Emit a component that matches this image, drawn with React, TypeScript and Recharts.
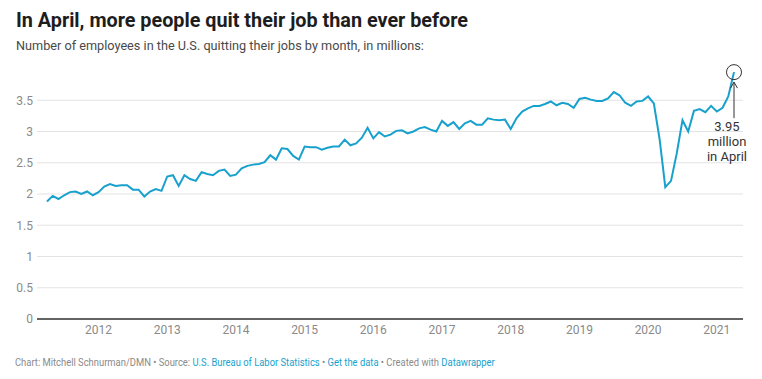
import { LineChart, Line, XAxis, YAxis, CartesianGrid, ReferenceDot } from 'recharts';

// monthly quits, millions, starting April 2011
const startYear = 2011;
const startMonth = 4;
const quits = [
  1.88, 1.97, 1.92, 1.98, 2.03, 2.04, 2.0, 2.04, 1.98,
  2.03, 2.12, 2.16, 2.13, 2.14, 2.14, 2.07, 2.07, 1.96, 2.04, 2.08, 2.05,
  2.28, 2.3, 2.13, 2.3, 2.24, 2.21, 2.35, 2.32, 2.3, 2.37, 2.39, 2.29,
  2.31, 2.41, 2.45, 2.47, 2.48, 2.51, 2.62, 2.55, 2.73, 2.72, 2.61, 2.55,
  2.76, 2.75, 2.75, 2.71, 2.74, 2.76, 2.76, 2.87, 2.78, 2.81, 2.9, 3.06,
  2.89, 2.99, 2.92, 2.95, 3.01, 3.02, 2.97, 3.0, 3.05, 3.07, 3.03, 3.0,
  3.17, 3.09, 3.15, 3.04, 3.13, 3.17, 3.11, 3.11, 3.21, 3.19, 3.18, 3.19,
  3.04, 3.21, 3.32, 3.37, 3.41, 3.41, 3.44, 3.48, 3.42, 3.46, 3.44, 3.38,
  3.52, 3.54, 3.51, 3.49, 3.49, 3.53, 3.63, 3.58, 3.46, 3.41, 3.48, 3.49,
  3.56, 3.45, 2.88, 2.11, 2.21, 2.65, 3.18, 3.0, 3.33, 3.36, 3.31, 3.41,
  3.32, 3.38, 3.56, 3.95,
];
const yearTicks = [2012, 2013, 2014, 2015, 2016, 2017, 2018, 2019, 2020, 2021];
const valueTicks = [0, 0.5, 1, 1.5, 2, 2.5, 3, 3.5];
const yMax = 4;
const noteLines = ['3.95', 'million', 'in April'];

const data = quits.map((v, i) => ({ t: startYear + (startMonth - 1 + i) / 12, v }));
const last = data[data.length - 1];

const BLUE = '#18a1cd';
const FONT = 'Roboto, sans-serif';

function Note(props: any) {
  const { cx, cy } = props;
  if (cx == null || cy == null) return null;
  return (
    <g>
      <circle cx={cx} cy={cy} r={7.5} fill="none" stroke="#333" strokeWidth={1} />
      <line x1={cx} y1={cy + 10} x2={cx} y2={cy + 46} stroke="#333" strokeWidth={1} />
      <polyline points={`${cx - 3.5},${cy + 16} ${cx},${cy + 10} ${cx + 3.5},${cy + 16}`} fill="none" stroke="#333" strokeWidth={1} />
      {noteLines.map((s, i) => (
        <text key={s} x={cx - 7} y={cy + 59 + i * 15} textAnchor="middle" fontSize={13} fill="#333" fontFamily={FONT}>
          {s}
        </text>
      ))}
    </g>
  );
}

// grid rows only at the labelled values, not at the top of the domain
const gridRows = ({ offset }: any) =>
  offset ? valueTicks.map((v) => offset.top + offset.height * (1 - v / yMax)) : [];

export default function App() {
  return (
    <div style={{ position: 'absolute', left: 0, top: 0, width: 762, height: 379, background: '#fff', fontFamily: FONT }}>
      <div style={{ position: 'absolute', left: 16, top: 11, fontSize: 19.8, lineHeight: 1, fontWeight: 700, color: '#1d1d1d', whiteSpace: 'nowrap' }}>
        In April, more people quit their job than ever before
      </div>
      <div style={{ position: 'absolute', left: 16, top: 40, fontSize: 12.7, lineHeight: 1, color: '#494949', whiteSpace: 'nowrap' }}>
        Number of employees in the U.S. quitting their jobs by month, in millions:
      </div>
      <div style={{ position: 'absolute', left: 0, top: 0 }}>
        <LineChart width={762} height={379} data={data} margin={{ top: 69, right: 19, bottom: 40, left: 0 }}>
          <CartesianGrid vertical={false} horizontalCoordinatesGenerator={gridRows} stroke="#e3e3e3" strokeWidth={1} />
          <XAxis
            dataKey="t"
            type="number"
            domain={[startYear + (startMonth - 1) / 12, last.t]}
            ticks={yearTicks}
            padding={{ left: 10, right: 9 }}
            tickFormatter={(v) => String(v)}
            tickLine={false}
            tickSize={0}
            tickMargin={6}
            height={20}
            axisLine={{ stroke: '#333', strokeWidth: 1.5 }}
            tick={{ fontSize: 12, fill: '#8a8a8a', fontFamily: FONT }}
          />
          <YAxis
            type="number"
            domain={[0, yMax]}
            ticks={valueTicks}
            width={37}
            tickLine={false}
            tickSize={0}
            tickMargin={4}
            axisLine={false}
            tick={{ fontSize: 12, fill: '#8a8a8a', fontFamily: FONT }}
          />
          <Line type="linear" dataKey="v" stroke={BLUE} strokeWidth={2} dot={false} isAnimationActive={false} />
          <ReferenceDot x={last.t} y={last.v} r={7.5} shape={(p: any) => <Note {...p} />} />
        </LineChart>
      </div>
      <div style={{ position: 'absolute', left: 15, top: 357, fontSize: 11, lineHeight: 1, color: '#8a8a8a', whiteSpace: 'nowrap', transform: 'scaleX(0.855)', transformOrigin: 'left top' }}>
        Chart: Mitchell Schnurman/DMN • Source: <span style={{ color: BLUE }}>U.S. Bureau of Labor Statistics</span> •{' '}
        <span style={{ color: BLUE }}>Get the data</span> • Created with <span style={{ color: BLUE }}>Datawrapper</span>
      </div>
    </div>
  );
}
